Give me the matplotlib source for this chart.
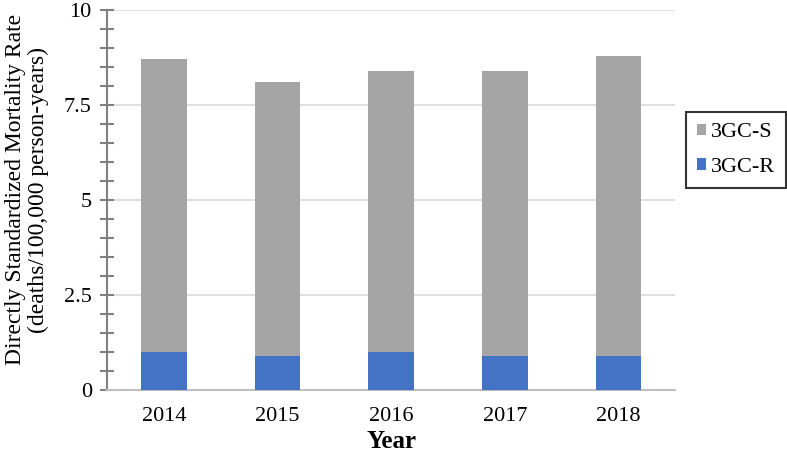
import matplotlib.pyplot as plt
import numpy as np

years = ['2014', '2015', '2016', '2017', '2018']
resistant = [1.0, 0.9, 1.0, 0.9, 0.9]     # 3GC-R
total = [8.7, 8.1, 8.4, 8.4, 8.8]
susceptible = [t - r for t, r in zip(total, resistant)]  # 3GC-S stacked on top

plt.rcParams['font.family'] = ['Liberation Serif', 'DejaVu Serif']

fig = plt.figure(figsize=(7.87, 4.58), dpi=100)
ax = fig.add_axes([0.136, 0.148, 0.722, 0.830])

x = np.arange(len(years))
ax.bar(x, resistant, width=0.4, color='#4472c4', label='3GC-R', zorder=3)
ax.bar(x, susceptible, width=0.4, bottom=resistant, color='#a5a5a5', label='3GC-S', zorder=3)

ax.set_xlim(-0.5, 4.5)
ax.set_ylim(0, 10)
ax.set_xticks(x)
ax.set_xticklabels(years)
ax.set_yticks([0, 2.5, 5, 7.5, 10])
ax.set_yticklabels(['0', '2.5', '5', '7.5', '10'])
ax.set_yticks(np.arange(0, 10.01, 0.5), minor=True)
ax.yaxis.grid(True, which='major', color='#d9d9d9', linewidth=1.2, zorder=0)

for s in ['top', 'right']:
    ax.spines[s].set_visible(False)
ax.spines['left'].set_color('#808080')
ax.spines['bottom'].set_color('#bfbfbf')
ax.spines['left'].set_linewidth(1.5)
ax.spines['bottom'].set_linewidth(1.5)
ax.tick_params(axis='x', length=0, labelsize=16, pad=12)
ax.tick_params(axis='y', which='both', direction='inout', length=10, width=1.5,
               color='#808080', labelsize=16, pad=6)

ax.set_ylabel('Directly Standardized Mortality Rate\n(deaths/100,000 person-years)', fontsize=17,
              linespacing=1.1)
ax.yaxis.set_label_coords(-0.103, 0.528)
ax.set_xlabel('Year', fontsize=18, fontweight='bold', labelpad=3)

handles, labels = ax.get_legend_handles_labels()
leg = fig.legend(handles[::-1], labels[::-1], loc='center', bbox_to_anchor=(736 / 787, 0.672),
                 fontsize=16, frameon=True, fancybox=False, edgecolor='black',
                 handlelength=0.4, handleheight=0.4, handletextpad=0.2, labelspacing=0.7,
                 borderpad=0.5)
leg.get_frame().set_linewidth(1.5)

fig.savefig('out.png', dpi=100)
